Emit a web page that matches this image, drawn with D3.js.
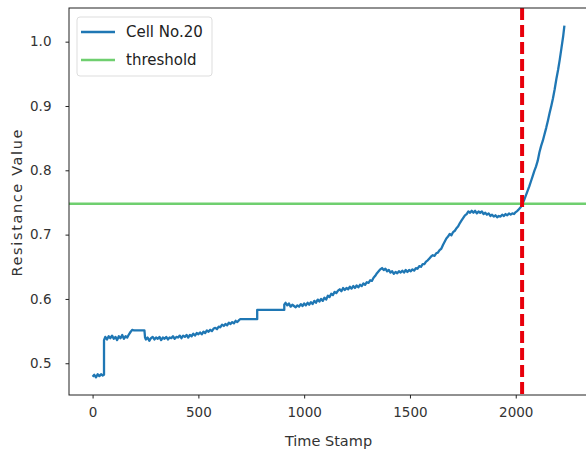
<!DOCTYPE html>
<html>
<head>
<meta charset="utf-8">
<script src="https://cdn.jsdelivr.net/npm/d3@7"></script>
<style>
  body { margin: 0; background: #fff; }
  svg text { font-family: "DejaVu Sans", sans-serif; }
</style>
</head>
<body>
<svg id="chart"></svg>
<script>
// [time stamp, resistance] (repeated time = step)
let cell20 = [
  [0,0.479],[8,0.482],[16,0.478],[24,0.483],[32,0.480],[40,0.483],[48,0.481],[54,0.482],
  [54,0.536],[60,0.541],[68,0.537],[76,0.542],[84,0.539],[92,0.543],[100,0.538],[108,0.541],
  [116,0.536],[124,0.542],[132,0.539],[140,0.544],[148,0.538],[156,0.542],[164,0.540],[172,0.545],
  [180,0.549],[188,0.552],[196,0.551],[245,0.551],
  [248,0.540],[252,0.537],[260,0.540],[268,0.535],[276,0.539],[284,0.541],[292,0.537],[300,0.540],
  [308,0.538],[316,0.541],[324,0.536],[332,0.540],[340,0.538],[348,0.541],[356,0.537],[364,0.540],
  [372,0.539],[380,0.542],[388,0.538],[396,0.541],[404,0.540],[412,0.543],[420,0.539],[428,0.543],
  [436,0.541],[444,0.544],[452,0.540],[460,0.544],[468,0.542],[476,0.546],[484,0.543],[492,0.547],
  [500,0.545],[508,0.548],[516,0.545],[524,0.549],[532,0.547],[540,0.551],[548,0.549],[556,0.552],
  [564,0.550],[572,0.554],[580,0.555],[588,0.553],[596,0.557],[604,0.556],[612,0.560],[620,0.558],
  [628,0.561],[636,0.559],[644,0.563],[652,0.561],[660,0.564],[668,0.562],[676,0.566],[684,0.564],
  [692,0.567],[698,0.5685],[778,0.5685],
  [778,0.583],[906,0.583],
  [906,0.591],[912,0.594],[920,0.590],[928,0.593],[936,0.588],[944,0.591],[952,0.589],[960,0.587],
  [968,0.590],[976,0.588],[984,0.592],[992,0.589],[1000,0.593],[1008,0.590],[1016,0.594],[1024,0.591],
  [1032,0.595],[1040,0.592],[1048,0.597],[1056,0.594],[1064,0.599],[1072,0.596],[1080,0.600],[1088,0.597],
  [1096,0.602],[1104,0.599],[1112,0.605],[1120,0.603],[1128,0.608],[1136,0.606],[1144,0.611],[1152,0.609],
  [1160,0.613],[1168,0.615],[1176,0.612],[1184,0.617],[1192,0.614],[1200,0.617],[1208,0.615],[1216,0.619],
  [1224,0.616],[1232,0.620],[1240,0.617],[1248,0.621],[1256,0.618],[1264,0.622],[1272,0.620],[1280,0.624],
  [1288,0.622],[1296,0.626],[1304,0.625],[1312,0.629],[1320,0.628],[1328,0.633],[1336,0.636],[1344,0.640],
  [1352,0.643],[1360,0.646],[1368,0.648],[1376,0.645],[1384,0.647],[1392,0.643],[1400,0.645],[1408,0.641],
  [1416,0.643],[1424,0.639],[1432,0.642],[1440,0.640],[1448,0.643],[1456,0.641],[1464,0.644],[1472,0.641],
  [1480,0.645],[1488,0.642],[1496,0.645],[1504,0.643],[1512,0.646],[1520,0.644],[1528,0.648],[1536,0.647],
  [1544,0.651],[1552,0.650],[1560,0.654],[1568,0.654],[1576,0.658],[1584,0.660],[1592,0.663],[1600,0.666],
  [1608,0.668],[1616,0.667],[1624,0.671],[1632,0.672],[1640,0.676],[1648,0.678],[1656,0.684],[1664,0.689],
  [1672,0.694],[1680,0.697],[1688,0.701],[1696,0.699],[1704,0.704],[1712,0.706],[1720,0.710],[1728,0.713],
  [1736,0.718],[1744,0.722],[1752,0.726],[1760,0.730],[1768,0.732],[1776,0.736],[1784,0.734],[1792,0.737],
  [1800,0.734],[1808,0.737],[1816,0.733],[1824,0.736],[1832,0.734],[1840,0.736],[1848,0.732],[1856,0.734],
  [1864,0.731],[1872,0.733],[1880,0.729],[1888,0.731],[1896,0.728],[1904,0.730],[1912,0.727],[1920,0.729],
  [1928,0.728],[1936,0.731],[1944,0.729],[1952,0.732],[1960,0.730],[1968,0.733],[1976,0.731],[1984,0.733],
  [1992,0.732],[2000,0.735],[2008,0.737],[2016,0.740],[2024,0.743],[2032,0.748],[2040,0.754],[2048,0.761],
  [2056,0.768],[2064,0.775],[2072,0.783],[2080,0.791],[2088,0.799],[2096,0.806],[2104,0.815],[2112,0.828],
  [2120,0.838],[2128,0.846],[2136,0.856],[2144,0.866],[2152,0.877],[2160,0.889],[2168,0.900],[2176,0.912],
  [2184,0.926],[2192,0.942],[2200,0.956],[2208,0.972],[2216,0.990],[2224,1.008],[2230,1.025]
];
let threshold = 0.748;
let failureTime = 2030;
let xTicks = [0, 500, 1000, 1500, 2000];
let yTicks = [0.5, 0.6, 0.7, 0.8, 0.9, 1.0];
let legendLabels = ["Cell No.20", "threshold"];

let width = 586;
let height = 453;
let margin = {top: 8, right: -2, bottom: 58, left: 69};
let plotW = width - margin.left - margin.right;
let plotH = height - margin.top - margin.bottom;

let svg = d3.select('#chart').attr('width', width).attr('height', height);
let g = svg.append('g').attr('transform', 'translate(' + margin.left + ',' + margin.top + ')');

// matplotlib style 5% margins
let tExt = d3.extent(cell20, d => d[0]);
let vExt = d3.extent(cell20, d => d[1]);
let tPad = (tExt[1] - tExt[0]) * 0.05;
let vPad = (vExt[1] - vExt[0]) * 0.05;

let x = d3.scaleLinear().domain([tExt[0] - tPad, tExt[1] + tPad]).range([0, plotW]);
let y = d3.scaleLinear().domain([vExt[0] - vPad, vExt[1] + vPad]).range([plotH, 0]);

let xAxis = d3.axisBottom(x).tickValues(xTicks).tickSize(3.5).tickPadding(9).tickFormat(d3.format('d'));
let yAxis = d3.axisLeft(y).tickValues(yTicks).tickSize(3.5).tickPadding(14).tickFormat(d3.format('.1f'));

g.append('g').attr('class', 'x axis').attr('transform', 'translate(0,' + plotH + ')').call(xAxis);
g.append('g').attr('class', 'y axis').call(yAxis);
g.selectAll('.axis path').remove();
g.selectAll('.axis line').attr('stroke', '#222');
g.selectAll('.axis text').attr('fill', '#333').style('font-size', '13.5px');

g.append('clipPath').attr('id', 'plotclip')
  .append('rect').attr('width', plotW).attr('height', plotH);
let plot = g.append('g').attr('clip-path', 'url(#plotclip)');

let line = d3.line().x(d => x(d[0])).y(d => y(d[1]));
plot.append('path').datum(cell20)
  .attr('d', line)
  .attr('fill', 'none')
  .attr('stroke', '#1f77b4')
  .attr('stroke-width', 2.3)
  .attr('stroke-linejoin', 'round');

plot.append('line')
  .attr('x1', 0).attr('x2', plotW)
  .attr('y1', y(threshold)).attr('y2', y(threshold))
  .attr('stroke', '#6fcf6f').attr('stroke-width', 2.5);

plot.append('line')
  .attr('x1', x(failureTime)).attr('x2', x(failureTime))
  .attr('y1', 0).attr('y2', plotH)
  .attr('stroke', '#e8000b').attr('stroke-width', 4)
  .attr('stroke-dasharray', '12,5');

// spines
g.append('rect').attr('width', plotW).attr('height', plotH)
  .attr('fill', 'none').attr('stroke', '#222').attr('stroke-width', 1);

// legend
let legend = g.append('g').attr('transform', 'translate(8,9)');
legend.append('rect').attr('width', 135).attr('height', 59).attr('rx', 3)
  .attr('fill', '#fff').attr('fill-opacity', 0.8).attr('stroke', '#ddd');
let legendColors = ['#1f77b4', '#6fcf6f'];
legendLabels.forEach(function (label, i) {
  let row = legend.append('g').attr('transform', 'translate(0,' + (15 + i * 28) + ')');
  row.append('line').attr('x1', 4).attr('x2', 38).attr('stroke', legendColors[i]).attr('stroke-width', 2.5);
  row.append('text').attr('x', 49).attr('dy', '.35em').style('font-size', '15px').attr('fill', '#222').text(label);
});

// axis labels
g.append('text')
  .attr('x', plotW / 2).attr('y', plotH + 51)
  .attr('text-anchor', 'middle').style('font-size', '14.5px').attr('fill', '#333')
  .text('Time Stamp');
g.append('text')
  .attr('transform', 'translate(' + (-47) + ',' + (203 - margin.top) + ') rotate(-90)')
  .attr('text-anchor', 'middle').style('font-size', '14.5px').attr('fill', '#333')
  .attr('textLength', 147).attr('lengthAdjust', 'spacing')
  .text('Resistance Value');
</script>
</body>
</html>
